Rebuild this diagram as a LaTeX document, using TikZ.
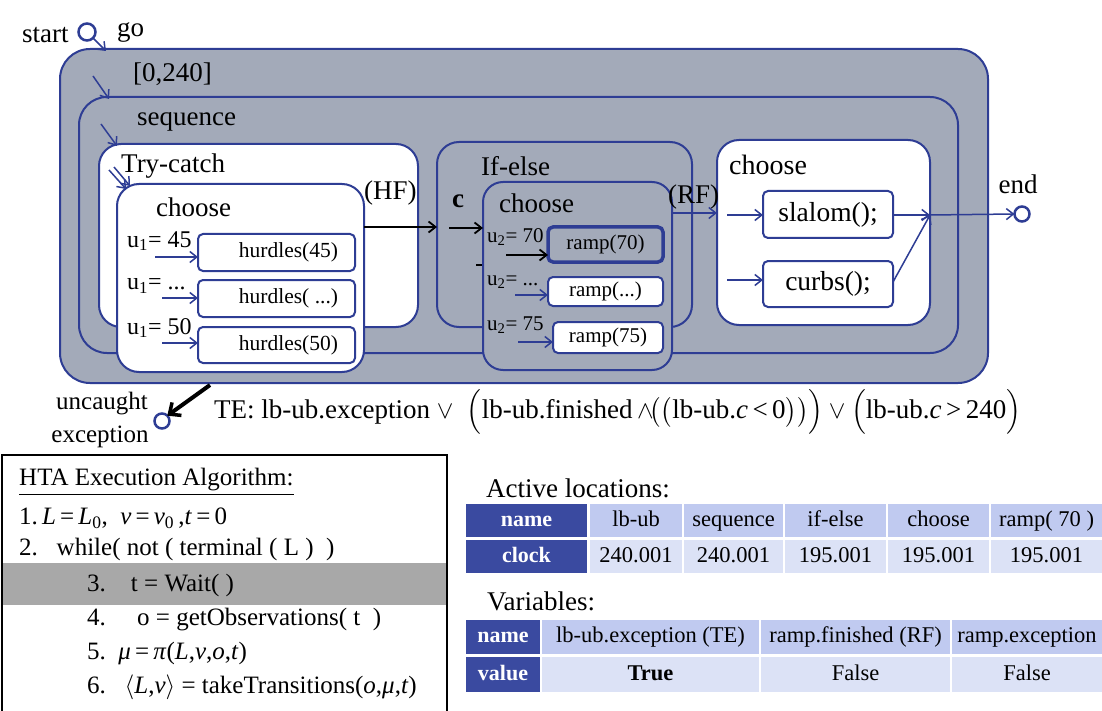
\documentclass[tikz,border=0pt]{standalone}
\usepackage{fontspec}
\setmainfont{Liberation Serif}
\usepackage{amsmath}
\usetikzlibrary{arrows.meta,calc}
\definecolor{blu}{HTML}{2E3D94}
\definecolor{gry}{HTML}{A3AAB9}
\definecolor{dcell}{HTML}{3A4AA0}
\definecolor{lcell}{HTML}{C0CAF0}
\definecolor{llcell}{HTML}{DCE2F6}
\definecolor{band}{HTML}{A8A8A8}
\newcommand{\myfs}[1]{\fontsize{#1}{#1}\selectfont}
\begin{document}
\begin{tikzpicture}[x=1pt,y=-1pt,
  region/.style={draw=blu, line width=2pt, rounded corners=#1, inner sep=0pt, outer sep=0pt, anchor=north west},
  region/.default=22pt,
  grayregion/.style={region=#1, fill=gry},
  grayregion/.default=22pt,
  whiteregion/.style={region=#1, fill=white},
  whiteregion/.default=22pt,
  leaf/.style={draw=blu, line width=2pt, rounded corners=5pt, fill=white, inner sep=0pt, outer sep=0pt, anchor=north west},
  lab/.style={anchor=west, inner sep=0pt, font=\myfs{27}},
  arr/.style={draw=blu, line width=1.5pt, -{Straight Barb[length=7pt,width=11pt,line width=1.5pt]}},
  barr/.style={draw=black, line width=1.8pt, -{Straight Barb[length=7pt,width=11pt,line width=1.8pt]}},
  state/.style={circle, draw=blu, line width=2.5pt, fill=white, minimum size=15pt, inner sep=0pt, outer sep=0pt},
  cellbase/.style={inner sep=0pt, outer sep=0pt, anchor=north west, text height=15pt, text depth=4pt},
  dcellst/.style={cellbase, fill=dcell, text=white, font=\myfs{22}\bfseries},
  lcellst/.style={cellbase, fill=lcell, font=\myfs{22.5}},
  llcellst/.style={cellbase, fill=llcell, font=\myfs{22.5}},
  algo/.style={anchor=west, inner sep=0pt, font=\myfs{25}}
]
\useasboundingbox (0,0) rectangle (1102,711);
\fill[white] (0,0) rectangle (1102,711);

% ---------- regions ----------
\node[grayregion=30pt, minimum width=928pt, minimum height=334pt] (lbub) at (60,49) {};
\node[grayregion=28pt, minimum width=879pt, minimum height=256pt] (seq) at (79,97) {};
\node[whiteregion, minimum width=319pt, minimum height=183pt] (try) at (99,144) {};
\node[grayregion, minimum width=255pt, minimum height=185pt] (ifelse) at (437,142) {};
\node[whiteregion, minimum width=213pt, minimum height=185pt] (ch3) at (717,140) {};
\node[whiteregion, minimum width=247pt, minimum height=188pt] (ch1) at (117,184) {};
\node[grayregion=20pt, minimum width=189pt, minimum height=188pt] (ch2) at (483,182) {};

% ---------- leaves ----------
\node[leaf, minimum width=157pt, minimum height=37pt] (h45) at (198,234) {};
\node[leaf, minimum width=157pt, minimum height=37pt] (hdots) at (198,280) {};
\node[leaf, minimum width=157pt, minimum height=36pt] (h50) at (198,327) {};
\node[font=\myfs{21.5}, inner sep=0pt] at ($(h45.center)+(12,0)$) {hurdles(45)};
\node[font=\myfs{21.5}, inner sep=0pt] at ($(hdots.center)+(12,0)$) {hurdles( ...)};
\node[font=\myfs{21.5}, inner sep=0pt] at ($(h50.center)+(12,0)$) {hurdles(50)};

\node[leaf, fill=gry, line width=3.5pt, minimum width=115pt, minimum height=35pt] (r70) at (548,227) {};
\node[font=\myfs{21}, inner sep=0pt] at (r70.center) {ramp(70)};
\node[leaf, minimum width=115pt, minimum height=29pt] (rdots) at (548,277) {};
\node[font=\myfs{21}, inner sep=0pt] at (rdots.center) {ramp(...)};
\node[leaf, minimum width=110pt, minimum height=31pt] (r75) at (553,322) {};
\node[font=\myfs{21}, inner sep=0pt] at (r75.center) {ramp(75)};

\node[leaf, minimum width=130pt, minimum height=47pt] (slalom) at (763,191) {};
\node[font=\myfs{27.5}, inner sep=0pt] at (slalom.center) {slalom();};
\node[leaf, minimum width=130pt, minimum height=46pt] (curbs) at (763,261) {};
\node[font=\myfs{27.5}, inner sep=0pt] at (curbs.center) {curbs();};

% ---------- labels ----------
\node[lab] (startl) at (22,35) {start};
\node[lab] (gol) at (117,32) {go};
\node[lab] (tl) at (133,74) {[0,240]};
\node[lab] (seql) at (137,122) {sequence};
\node[lab] (tryl) at (121,166) {Try-catch};
\node[lab] (ch1l) at (156,207) {choose};
\node[lab] (ifl) at (481,166) {If-else};
\node[lab, font=\myfs{27}\bfseries] (cl) at (452,201) {c};
\node[lab] (ch2l) at (499,203) {choose};
\node[lab, font=\myfs{28}] (ch3l) at (729,165) {choose};
\node[lab] (hfl) at (364,193) {(HF)};
\node[lab] (rfl) at (668,197) {(RF)};
\node[font=\myfs{27}, inner sep=0pt] (endl) at (1018,184) {end};

\node[lab, font=\myfs{24}] (u45) at (127,241) {u\textsubscript{1}= 45};
\node[lab, font=\myfs{24}] (udots) at (127,286) {u\textsubscript{1}= ...};
\node[lab, font=\myfs{24}] (u50) at (127,328) {u\textsubscript{1}= 50};
\node[lab, font=\myfs{21}] (u70) at (487,237) {u\textsubscript{2}= 70};
\node[lab, font=\myfs{21}] (u2dots) at (487,282) {u\textsubscript{2}= ...};
\node[lab, font=\myfs{21}] (u75) at (487,325) {u\textsubscript{2}= 75};

% ---------- states ----------
\node[state, minimum size=17pt] (startc) at (87,32) {};
\node[state] (endc) at (1022,214) {};
\node[state] (excc) at (162,421) {};
\coordinate (goend) at (106,51);
\coordinate (merge) at (930,215);

% ---------- connectors ----------
\draw[arr] (startc.south east) -- (goend);
\coordinate (a1s) at (93,76); \coordinate (a1e) at (109,99);
\draw[arr] (a1s) -- (a1e);
\coordinate (a2s) at (101,124); \coordinate (a2e) at (117,146);
\draw[arr] (a2s) -- (a2e);
\coordinate (a3s) at (109,170); \coordinate (a3e) at (126,189);
\coordinate (a4s) at (114,167); \coordinate (a4e) at (130,186);
\draw[arr] (a3s) -- (a3e);
\draw[arr] (a4s) -- (a4e);

\coordinate (u1a) at (155,257); \draw[arr] (u1a) -- (u1a -| h45.west);
\coordinate (u1b) at (162,298); \draw[arr] (u1b) -- (u1b -| hdots.west);
\coordinate (u1c) at (162,343); \draw[arr] (u1c) -- (u1c -| h50.west);

\coordinate (hf) at (364,227); \draw[barr] (hf) -- (hf -| ifelse.west);
\coordinate (cs) at (449,228); \draw[barr] (cs) -- (cs -| ch2.west);
\coordinate (tk1) at (476,265); \coordinate (tk2) at (482,265);
\draw[black, line width=1.8pt] (tk1) -- (tk2);

\coordinate (u2a) at (506,255); \draw[barr] (u2a) -- (u2a -| r70.west);
\coordinate (u2b) at (515,295); \draw[arr] (u2b) -- (u2b -| rdots.west);
\coordinate (u2c) at (518,342); \draw[arr] (u2c) -- (u2c -| r75.west);

\coordinate (rf) at (672,213); \draw[arr] (rf) -- (rf -| ch3.west);
\coordinate (is) at (727,215); \draw[arr] (is) -- (is -| slalom.west);
\coordinate (ic) at (727,280); \draw[arr] (ic) -- (ic -| curbs.west);
\draw[arr] (slalom.east |- merge) -- (merge);
\coordinate (cx) at (893,282);
\draw[arr] (cx) -- (merge);
\draw[arr] (merge) -- (endc.west);

\coordinate (exs) at (210,385);
\draw[draw=black, line width=4pt, -{Straight Barb[length=9pt,width=16pt,line width=3.5pt]}] (exs) -- (excc.north east);
\node[font=\myfs{25}, inner sep=0pt] (uncl) at (102,404) {uncaught};
\node[font=\myfs{25}, inner sep=0pt] (excl) at (100,437) {exception};

\node[lab, font=\myfs{27}] (te) at (214,412) {TE: lb-ub.exception $\vee$\ \ $\Bigl($lb-ub.finished\,$\wedge\!\bigl(\bigl($lb-ub.\textit{c}\,<\,0$\bigr)\bigr)\Bigr)\vee\Bigl($lb-ub.\textit{c}\,>\,240$\Bigr)$};

% ---------- algorithm box ----------
\fill[band] (2,563) rectangle (447,605);
\draw[black, line width=1.3pt] (2,711) -- (2,455) -- (447,455) -- (447,711);
\node[algo] (al0) at (19,482) {\underline{HTA Execution Algorithm:}};
\node[algo] (al1) at (19,518) {1.\,\textit{L}\,=\,\textit{L}\textsubscript{0},\ \ \textit{ν}\,=\,\textit{ν}\textsubscript{0}\,,\textit{t}\,=\,0};
\node[algo] (al2) at (19,549) {2.\ \ \ while( not ( terminal ( L )\ \ )};
\node[algo] (al3) at (87,585) {3.\ \ \ \ t = Wait( )};
\node[algo] (al4) at (87,620) {4.\ \ \ \ \ o = getObservations( t\ \ )};
\node[algo] (al5) at (87,653) {5.\ \ \textit{μ}\,=\,\textit{π}(\textit{L},\textit{ν},\textit{o},\textit{t})};
\node[algo] (al6) at (87,687) {6.\ \ \ $\langle$\textit{L},\textit{ν}$\rangle$ = takeTransitions(\textit{o},\textit{μ},\textit{t})};

% ---------- tables ----------
\node[lab, font=\myfs{27}] (actl) at (486,488) {Active locations:};
\node[dcellst, minimum width=121pt, minimum height=33pt] (t1n) at (466,504) {name};
\node[lcellst, minimum width=92pt, minimum height=33pt] (t1a) at (590,504) {lb-ub};
\node[lcellst, minimum width=99pt, minimum height=33pt] (t1b) at (684,504) {sequence};
\node[lcellst, minimum width=101pt, minimum height=33pt] (t1c) at (785,504) {if-else};
\node[lcellst, minimum width=101pt, minimum height=33pt] (t1d) at (888,504) {choose};
\node[lcellst, minimum width=111pt, minimum height=33pt] (t1e) at (991,504) {ramp( 70 )};
\node[dcellst, minimum width=121pt, minimum height=33pt] (t1n2) at (466,540) {clock};
\node[llcellst, minimum width=92pt, minimum height=33pt] (t1a2) at (590,540) {240.001};
\node[llcellst, minimum width=99pt, minimum height=33pt] (t1b2) at (684,540) {240.001};
\node[llcellst, minimum width=101pt, minimum height=33pt] (t1c2) at (785,540) {195.001};
\node[llcellst, minimum width=101pt, minimum height=33pt] (t1d2) at (888,540) {195.001};
\node[llcellst, minimum width=111pt, minimum height=33pt] (t1e2) at (991,540) {195.001};

\node[lab, font=\myfs{27}] (varl) at (487,601) {Variables:};
\node[dcellst, minimum width=74pt, minimum height=34pt] (t2n) at (466,620) {name};
\node[lcellst, minimum width=217pt, minimum height=34pt] (t2a) at (542,620) {lb-ub.exception (TE)};
\node[lcellst, minimum width=189pt, minimum height=34pt] (t2b) at (761,620) {ramp.finished (RF)};
\node[lcellst, minimum width=150pt, minimum height=34pt] (t2c) at (952,620) {ramp.exception};
\node[dcellst, minimum width=74pt, minimum height=35pt] (t2n2) at (466,657) {value};
\node[llcellst, minimum width=217pt, minimum height=35pt, font=\myfs{22.5}\bfseries] (t2a2) at (542,657) {True};
\node[llcellst, minimum width=189pt, minimum height=35pt] (t2b2) at (761,657) {False};
\node[llcellst, minimum width=150pt, minimum height=35pt] (t2c2) at (952,657) {False};
\end{tikzpicture}
\end{document}
